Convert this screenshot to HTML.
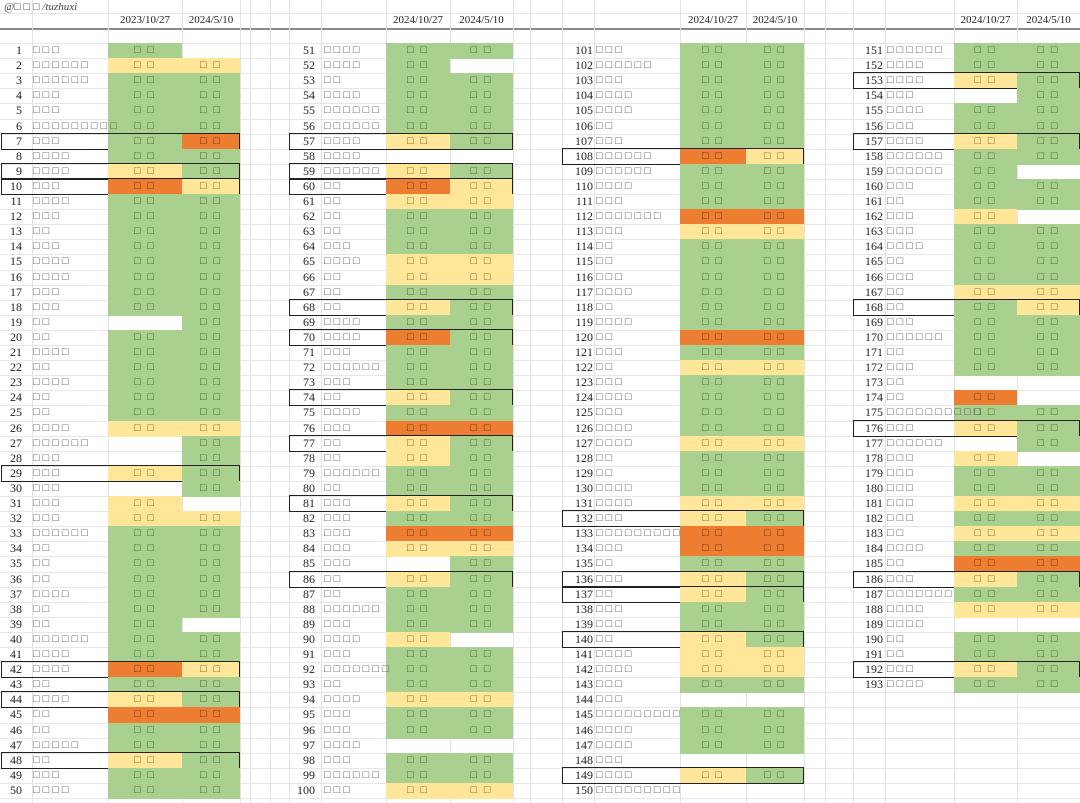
<!DOCTYPE html>
<html><head><meta charset="utf-8">
<style>
html,body{margin:0;padding:0;background:#fff;}
#sheet{position:relative;width:1080px;height:803px;overflow:hidden;font-family:"Liberation Serif","Noto Serif CJK SC",serif;}
.vl{position:absolute;top:0;width:1px;height:803px;background:#e2e2e2;}
.hl{position:absolute;left:0;width:1080px;height:1px;background:#e6e6e6;}
.cell{position:absolute;font-size:11px;text-align:center;line-height:15px;letter-spacing:2px;}
.num{position:absolute;font-size:12px;color:#222;line-height:15px;text-align:right;}
.nm{position:absolute;font-size:11px;color:#555;line-height:15px;letter-spacing:3px;white-space:nowrap;}
.box{position:absolute;border:1.5px solid #222;box-sizing:border-box;}
.hd{position:absolute;top:14px;font-size:11px;color:#222;text-align:center;}
</style></head>
<body>
<div id="sheet">
  <div style="position:absolute;left:4px;top:1px;font-size:11px;color:#444;font-style:italic;">@□ □ □ /tuzhuxi</div>
  <div style="position:absolute;left:0;top:28px;width:1080px;height:2px;background:#8a8a8a;"></div>
</div>
<script>
const nameLens1 = [3,6,6,3,3,9,3,4,4,3,4,3,2,3,4,4,3,3,2,2,4,2,4,2,2,4,6,3,3,3,3,3,6,2,2,2,4,2,2,6,4,4,2,4,2,2,5,2,3,4];
const nameLens2 = [4,4,2,4,6,6,4,4,6,2,2,2,2,3,4,2,2,2,4,4,3,6,3,2,4,3,2,2,6,2,3,3,3,3,3,2,2,6,3,4,3,7,2,4,3,3,4,3,6,3];
const nameLens3 = [3,6,3,4,4,2,3,6,6,4,3,7,3,2,2,3,4,2,4,2,3,2,3,4,3,4,4,2,2,4,4,3,9,3,2,3,2,3,3,2,4,4,3,3,9,4,4,3,4,9];
const nameLens4 = [6,4,4,3,4,3,4,6,6,3,2,3,3,4,2,3,2,2,3,6,2,3,2,2,10,3,6,3,3,3,3,3,2,4,2,3,7,4,4,2,2,3,4];
const rows1 = ["gw","yy","gg","gg","gg","gg","go","gg","yg","oy","gg","gg","gg","gg","gg","gg","gg","gg","wg","gg","gg","gg","gg","gg","gg","yy","wg","wg","yg","wg","yw","yy","gg","gg","gg","gg","gg","gg","gw","gg","gg","oy","gg","yg","oo","gg","gg","yg","gg","gg"];
const rows2 = ["gg","gw","gg","gg","gg","gg","yg","ww","yg","oy","yy","gg","gg","gg","yy","yy","gg","yg","gg","og","gg","gg","gg","yg","gg","oo","yg","yg","gg","gg","yg","gg","oo","yy","wg","yg","gg","gg","gg","yw","gg","gg","gg","yy","gg","gg","ww","gg","gg","yy"];
const rows3 = ["gg","gg","gg","gg","gg","gg","gg","oy","gg","gg","gg","oo","yy","gg","gg","gg","gg","gg","gg","oo","gg","yy","gg","gg","gg","gg","yy","gg","gg","gg","yy","yg","oo","oo","gg","yg","yg","gg","gg","yg","yy","yy","gg","ww","gg","gg","gg","ww","yg","ww"];
const rows4 = ["gg","gg","yg","wg","gg","gg","yg","gg","gw","gg","gg","yw","gg","gg","gg","gg","yy","gy","gg","gg","gg","gg","ww","ow","gg","yg","wg","yw","gg","gg","yy","gg","yy","gg","oo","yg","gg","yy","ww","gg","gg","yg","gg"];
const boxed = [7,9,10,29,42,44,48,57,59,60,68,70,74,77,81,86,108,132,136,137,140,149,153,157,168,176,186,192];
const dateA = ["2023/10/27","2024/10/27","2024/10/27","2024/10/27"];
const dateB = ["2024/5/10","2024/5/10","2024/5/10","2024/5/10"];

const sheet = document.getElementById('sheet');
const ROW0 = 43, RH = 15.1;
const blocks = [
  {rows:rows1,names:nameLens1,start:1, bx:1, numR:22, nameX:33, aX:108, bX:182, end:240},
  {rows:rows2,names:nameLens2,start:51,bx:289,numR:315,nameX:324,aX:386, bX:450, end:513},
  {rows:rows3,names:nameLens3,start:101,bx:562,numR:593,nameX:596,aX:680,bX:746,end:804},
  {rows:rows4,names:nameLens4,start:151,bx:853,numR:883,nameX:887,aX:954,bX:1017,end:1080}
];
const fill = {g:"#a9d08e",y:"#ffe699",o:"#ed7d31",w:"transparent"};
const ink = {g:"#2f5a1c",y:"#7a5a10",o:"#5a2a0a",w:"transparent"};

const vls = [32,108,182,240,250,270,289,321,386,450,513,530,562,594,680,746,804,825,853,885,954,1017];
vls.forEach(x=>{
  const d=document.createElement('div');d.className='vl';d.style.left=x+'px';
  
  
  sheet.appendChild(d);
});
for(let i=0;i<=51;i++){
  const d=document.createElement('div');d.className='hl';
  d.style.top=Math.round(ROW0+i*RH)+'px';
  
  
  sheet.appendChild(d);
}
const hl0=document.createElement('div');hl0.className='hl';hl0.style.top='13px';


sheet.appendChild(hl0);

function yOf(i){return ROW0+i*RH;}

blocks.forEach((b,bi)=>{
  [[dateA[bi],b.aX,b.bX],[dateB[bi],b.bX,b.end]].forEach(([t,x0,x1],k)=>{
    const h=document.createElement('div');h.className='hd';
    h.style.left=x0+'px';h.style.width=(x1-x0)+'px';h.textContent=t;
    
    
    sheet.appendChild(h);
  });
  b.rows.forEach((pair,i)=>{
    const n=b.start+i;
    const top=yOf(i), t=Math.round(top), h=Math.round(top+RH)-t;
    [[pair[0],b.aX,b.bX],[pair[1],b.bX,b.end]].forEach(([c,x0,x1],k)=>{
      const d=document.createElement('div');d.className='cell';
      d.style.left=x0+'px';d.style.top=t+'px';d.style.width=(x1-x0)+'px';d.style.height=(h+1)+'px';
      d.style.background=fill[c];d.style.color=ink[c];
      d.textContent=c==='w'?'':'□ □';
      
      
      sheet.appendChild(d);
    });
    const nm=document.createElement('div');nm.className='num';
    nm.style.left=(b.bx)+'px';nm.style.width=(b.numR-b.bx)+'px';nm.style.top=t+'px';nm.textContent=n;
    
    
    sheet.appendChild(nm);
    const na=document.createElement('div');na.className='nm';
    na.style.left=b.nameX+'px';na.style.top=t+'px';na.textContent='□'.repeat(b.names[i]||2);
    
    
    sheet.appendChild(na);
    if(boxed.includes(n)){
      const bx=document.createElement('div');bx.className='box';
      bx.style.left=b.bx+'px';bx.style.top=(t-1)+'px';bx.style.width=(b.end-b.bx)+'px';bx.style.height=(h+2)+'px';
      
      
      sheet.appendChild(bx);
    }
  });
});
</script>
</body></html>
